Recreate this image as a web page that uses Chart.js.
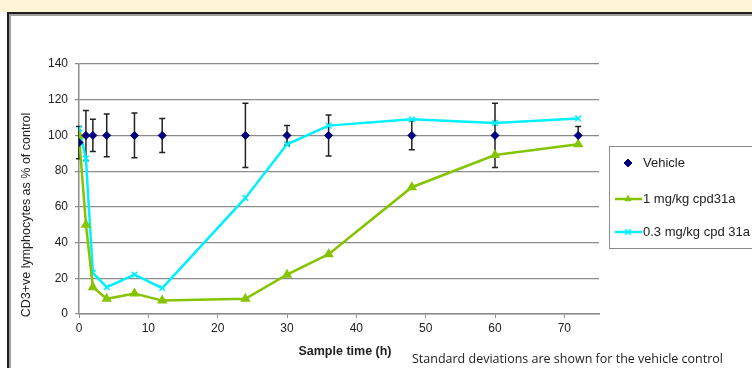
<!DOCTYPE html>
<html lang="en">
<head>
  <meta charset="UTF-8">
  <title>CD3+ve lymphocytes</title>
  <script src="https://cdn.jsdelivr.net/npm/chart.js@4.4.1/dist/chart.umd.min.js"></script>
  <style>
    html, body {
      margin: 0;
      padding: 0;
      width: 752px;
      height: 368px;
      overflow: hidden;
      background: #fff;
    }
    .band {
      position: absolute;
      left: 0; top: 0;
      width: 752px; height: 12px;
      background: #fff3d6;
    }
    .frame {
      position: absolute;
      left: 7px; top: 12px;
      width: 800px; height: 400px;
      border-left: 2px solid #1e1e1e;
      border-top: 2px solid #1e1e1e;
    }
    .frame-inner {
      position: absolute;
      left: 0; top: 0;
      width: 800px; height: 400px;
      border-left: 2px solid #a0a0a0;
      border-top: 2px solid #a0a0a0;
    }
    .wrap {
      position: absolute;
      left: 0; top: 0;
      width: 752px; height: 368px;
    }
  </style>
</head>
<body>
  <div class="band"></div>
  <div class="frame"><div class="frame-inner"></div></div>
  <div class="wrap"><canvas id="chart"></canvas></div>
  <script>
    // sample times (h)
    const hours = [0, 1, 2, 4, 8, 12, 24, 30, 36, 48, 60, 72];
    const vehicle = [96, 100, 100, 100, 100, 100, 100, 100, 100, 100, 100, 100];
    const vehicleSD = [9, 14, 9, 12, 12.5, 9.5, 18, 5.5, 11.5, 8, 18, 5];
    const dose1 = [100, 50, 15, 8.5, 11.5, 7.5, 8.5, 22, 33.5, 71, 89, 95];
    const dose03 = [104, 87, 23, 15, 22, 14.5, 65, 95, 105.5, 109, 107, 109.5];

    const xTicks = [0, 10, 20, 30, 40, 50, 60, 70];
    const yTicks = [0, 20, 40, 60, 80, 100, 120, 140];

    const seriesNames = ['Vehicle', '1 mg/kg cpd31a', '0.3 mg/kg cpd 31a'];

    const toPoints = (ys) => hours.map((h, i) => ({ x: h, y: ys[i] }));

    const gridGrey = '#8c8c8c';
    const axisFont = { family: 'Liberation Sans, Arial, sans-serif', size: 12 };

    // standard deviation bars for the vehicle control
    const errorBars = {
      id: 'errorBars',
      beforeDatasetsDraw(chart) {
        const { ctx, scales: { x, y } } = chart;
        ctx.save();
        ctx.strokeStyle = '#222';
        ctx.lineWidth = 1.5;
        hours.forEach((h, i) => {
          const px = x.getPixelForValue(h);
          const top = y.getPixelForValue(vehicle[i] + vehicleSD[i]);
          const bot = y.getPixelForValue(vehicle[i] - vehicleSD[i]);
          ctx.beginPath();
          ctx.moveTo(px, top); ctx.lineTo(px, bot);
          ctx.moveTo(px - 3, top); ctx.lineTo(px + 3, top);
          ctx.moveTo(px - 3, bot); ctx.lineTo(px + 3, bot);
          ctx.stroke();
        });
        ctx.restore();
      }
    };

    // axis titles, note and the boxed legend on the right
    const extras = {
      id: 'extras',
      afterDraw(chart) {
        const { ctx } = chart;
        ctx.save();
        ctx.fillStyle = '#222';
        ctx.textBaseline = 'middle';

        ctx.save();
        ctx.translate(27, 215);
        ctx.rotate(-Math.PI / 2);
        ctx.textAlign = 'center';
        ctx.font = '12.5px "Liberation Sans", Arial, sans-serif';
        ctx.fillText('CD3+ve lymphocytes as % of control', 0, 0);
        ctx.restore();

        ctx.textAlign = 'center';
        ctx.font = 'bold 12.5px "Liberation Sans", Arial, sans-serif';
        ctx.fillText('Sample time (h)', 345, 352);

        ctx.textAlign = 'left';
        ctx.font = '12.5px "Open Sans", sans-serif';
        ctx.fillText('Standard deviations are shown for the vehicle control', 412, 359);

        // legend box
        const lx = 609, ly = 146;
        ctx.strokeStyle = '#8c8c8c';
        ctx.lineWidth = 1;
        ctx.strokeRect(lx + 0.5, ly + 0.5, 160, 102);

        ctx.font = '13px "Liberation Sans", Arial, sans-serif';
        const rows = [163, 199, 232];
        chart.data.datasets.forEach((ds, i) => {
          const yy = rows[i];
          if (ds.showLine !== false) {
            ctx.strokeStyle = ds.borderColor;
            ctx.lineWidth = ds.borderWidth;
            ctx.beginPath();
            ctx.moveTo(615, yy); ctx.lineTo(642, yy);
            ctx.stroke();
          }
          ctx.fillStyle = ds.pointBackgroundColor || ds.borderColor;
          ctx.strokeStyle = ds.pointBorderColor || ds.borderColor;
          ctx.lineWidth = ds.pointBorderWidth || 1;
          Chart.helpers.drawPoint(ctx, {
            pointStyle: ds.pointStyle,
            radius: ds.pointRadius,
            borderWidth: ds.pointBorderWidth || 1,
            rotation: 0
          }, 628, yy);
          ctx.fillStyle = '#222';
          ctx.fillText(ds.label, 643, yy);
        });
        ctx.restore();
      }
    };

    new Chart(document.getElementById('chart'), {
      type: 'line',
      data: {
        datasets: [
          {
            label: seriesNames[0],
            data: toPoints(vehicle),
            showLine: false,
            pointStyle: 'rectRot',
            pointRadius: 4,
            pointBackgroundColor: '#000080',
            pointBorderColor: '#000080',
            borderColor: '#000080',
            backgroundColor: '#000080'
          },
          {
            label: seriesNames[1],
            data: toPoints(dose1),
            borderColor: '#84c400',
            backgroundColor: '#84c400',
            borderWidth: 2.5,
            pointStyle: 'triangle',
            pointRadius: 3.5,
            pointBackgroundColor: '#84c400',
            pointBorderColor: '#84c400',
            tension: 0
          },
          {
            label: seriesNames[2],
            data: toPoints(dose03),
            borderColor: '#00f0ff',
            backgroundColor: '#00f0ff',
            borderWidth: 2.5,
            pointStyle: 'crossRot',
            pointRadius: 4,
            pointBorderWidth: 1.5,
            pointBorderColor: '#00f0ff',
            tension: 0
          }
        ]
      },
      options: {
        responsive: true,
        maintainAspectRatio: false,
        animation: false,
        layout: { padding: { left: 0, top: 64, right: 153, bottom: 34 } },
        plugins: {
          legend: { display: false },
          tooltip: { enabled: false }
        },
        scales: {
          x: {
            type: 'linear',
            min: 0,
            max: 75,
            afterBuildTicks: (axis) => { axis.ticks = xTicks.map(v => ({ value: v })); },
            afterFit: (axis) => { axis.height = 20; },
            grid: { drawOnChartArea: false, tickLength: 4, color: gridGrey, tickColor: gridGrey },
            border: { color: gridGrey, width: 1.5 },
            ticks: { color: '#222', font: axisFont, padding: 3, maxRotation: 0 }
          },
          y: {
            min: 0,
            max: 140,
            afterBuildTicks: (axis) => { axis.ticks = yTicks.map(v => ({ value: v })); },
            afterFit: (axis) => { axis.width = 79; },
            grid: { color: gridGrey, lineWidth: 1.2, tickLength: 4 },
            border: { color: gridGrey, width: 1.5 },
            ticks: { color: '#222', font: axisFont, padding: 7 }
          }
        }
      },
      plugins: [errorBars, extras]
    });
  </script>
</body>
</html>
